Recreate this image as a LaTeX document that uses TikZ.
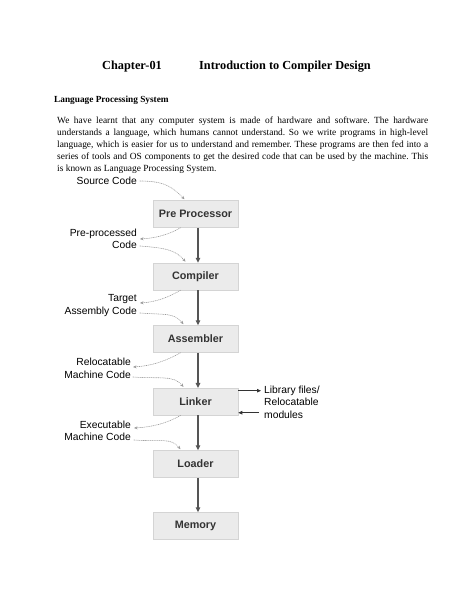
\documentclass[tikz,border=0pt]{standalone}
\usepackage{fontspec}
\setmainfont{Liberation Serif}
\setsansfont{Liberation Sans}
\usetikzlibrary{arrows.meta}
\definecolor{boxfill}{HTML}{EBEBEB}
\definecolor{boxline}{HTML}{D4D4D4}
\definecolor{boxtext}{HTML}{333333}
\definecolor{flowc}{HTML}{555555}
\definecolor{dotc}{HTML}{999999}
\frenchspacing
\begin{document}
\begin{tikzpicture}[x=1pt,y=-1pt,
 stage/.style={draw=boxline, fill=boxfill, minimum width=85pt, minimum height=27pt, inner sep=0pt,
   font=\sffamily\bfseries\fontsize{10.8}{12}\selectfont, text=boxtext, line width=0.5pt},
 lbl/.style={font=\sffamily\fontsize{10.3}{12.4}\selectfont, inner sep=0pt},
 flow/.style={draw=flowc, line width=1.3pt, -{Triangle[length=5pt,width=4.5pt]}},
 dots/.style={draw=dotc, line width=0.6pt, dash pattern=on 0.7pt off 1.1pt, line cap=round,
   -{Stealth[length=3.5pt,width=3pt]}},
 side/.style={draw=black!80, line width=0.8pt, -{Triangle[length=4pt,width=3.5pt]}},
 para/.style={anchor=north west, inner sep=0pt, align=left, font=\fontsize{9.4}{12}\selectfont}]
\useasboundingbox (0,0) rectangle (474,613);
\fill[white] (0,0) rectangle (474,613);

% heading
\node[anchor=base west, inner sep=0pt, font=\bfseries\fontsize{12.3}{14}\selectfont] (ch) at (102,69.5) {Chapter-01};
\node[anchor=base west, inner sep=0pt, font=\bfseries\fontsize{12.3}{14}\selectfont] (intro) at (199,69.5) {Introduction to Compiler Design};
\node[anchor=base west, inner sep=0pt, font=\bfseries\fontsize{9.3}{11}\selectfont] (lps) at (54,102) {Language Processing System};
\node[para] (txt) at (57,117) {%
\hbox to 371pt{We have learnt that any computer system is made of hardware and software. The hardware}\\
\hbox to 371pt{understands a language, which humans cannot understand. So we write programs in high-level}\\
\hbox to 371pt{language, which is easier for us to understand and remember. These programs are then fed into a}\\
\hbox to 371pt{series of tools and OS components to get the desired code that can be used by the machine. This}\\
is known as Language Processing System.};

% stages
\node[stage] (pp) at (195.5,214) {Pre Processor};
\node[stage] (comp) at (195.5,276.5) {Compiler};
\node[stage] (asm) at (195.5,339) {Assembler};
\node[stage] (link) at (195.5,401.7) {Linker};
\node[stage] (load) at (195.5,464) {Loader};
\node[stage] (mem) at (195.5,526) {Memory};

\draw[flow] ([xshift=2.5pt]pp.south) -- ([xshift=2.5pt]comp.north);
\draw[flow] ([xshift=2.5pt]comp.south) -- ([xshift=2.5pt]asm.north);
\draw[flow] ([xshift=2.5pt]asm.south) -- ([xshift=2.5pt]link.north);
\draw[flow] ([xshift=2.5pt]link.south) -- ([xshift=2.5pt]load.north);
\draw[flow] ([xshift=2.5pt]load.south) -- ([xshift=2.5pt]mem.north);

% labels
\node[lbl, anchor=east] (src) at (137,181) {Source Code};
\node[lbl, anchor=east, align=right] (ppc) at (137,239) {Pre-processed\\Code};
\node[lbl, anchor=east, align=right] (tac) at (137,305.5) {Target\\Assembly Code};
\node[lbl, anchor=east, align=right] (rmc) at (131,368.5) {Relocatable\\Machine Code};
\node[lbl, anchor=east, align=right] (emc) at (131,431) {Executable\\Machine Code};
\node[lbl, anchor=west, align=left] (lib) at (264,402.3) {Library files/\\Relocatable\\modules};

% dotted connectors
\draw[dots] ([xshift=3pt]src.east) .. controls +(25,0) and +(-12,-12) .. ([xshift=-11pt,yshift=1pt]pp.north);
\draw[dots] ([xshift=-15pt]pp.south) .. controls +(-12,7) and +(16,-1) .. ([xshift=3pt]ppc.east);
\draw[dots] ([xshift=3pt,yshift=-7pt]ppc.east) .. controls +(25,2) and +(-10,-12) .. ([xshift=-10pt,yshift=1pt]comp.north);

\draw[dots] ([xshift=-15pt]comp.south) .. controls +(-12,7) and +(16,-1) .. ([xshift=3pt,yshift=2.5pt]tac.east);
\draw[dots] ([xshift=3pt,yshift=-7.5pt]tac.east) .. controls +(25,2) and +(-10,-12) .. ([xshift=-12pt,yshift=1pt]asm.north);

\draw[dots] ([xshift=-15pt]asm.south) .. controls +(-14,8) and +(18,-1) .. ([xshift=2pt,yshift=1.5pt]rmc.east);
\draw[dots] ([xshift=2pt,yshift=-8.5pt]rmc.east) .. controls +(28,2) and +(-10,-12) .. ([xshift=-12pt,yshift=1pt]link.north);

\draw[dots] ([xshift=-15pt]link.south) .. controls +(-14,8) and +(18,-1) .. ([xshift=3pt,yshift=3pt]emc.east);
\draw[dots] ([xshift=3pt,yshift=-9pt]emc.east) .. controls +(28,2) and +(-10,-12) .. ([xshift=-15pt,yshift=1pt]load.north);

% library files
\draw[side] ([yshift=11pt]link.east) -- ([xshift=-3pt,yshift=11.6pt]lib.west);
\draw[side] ([xshift=-5pt,yshift=-10.4pt]lib.west) -- ([yshift=-11pt]link.east);
\end{tikzpicture}
\end{document}
